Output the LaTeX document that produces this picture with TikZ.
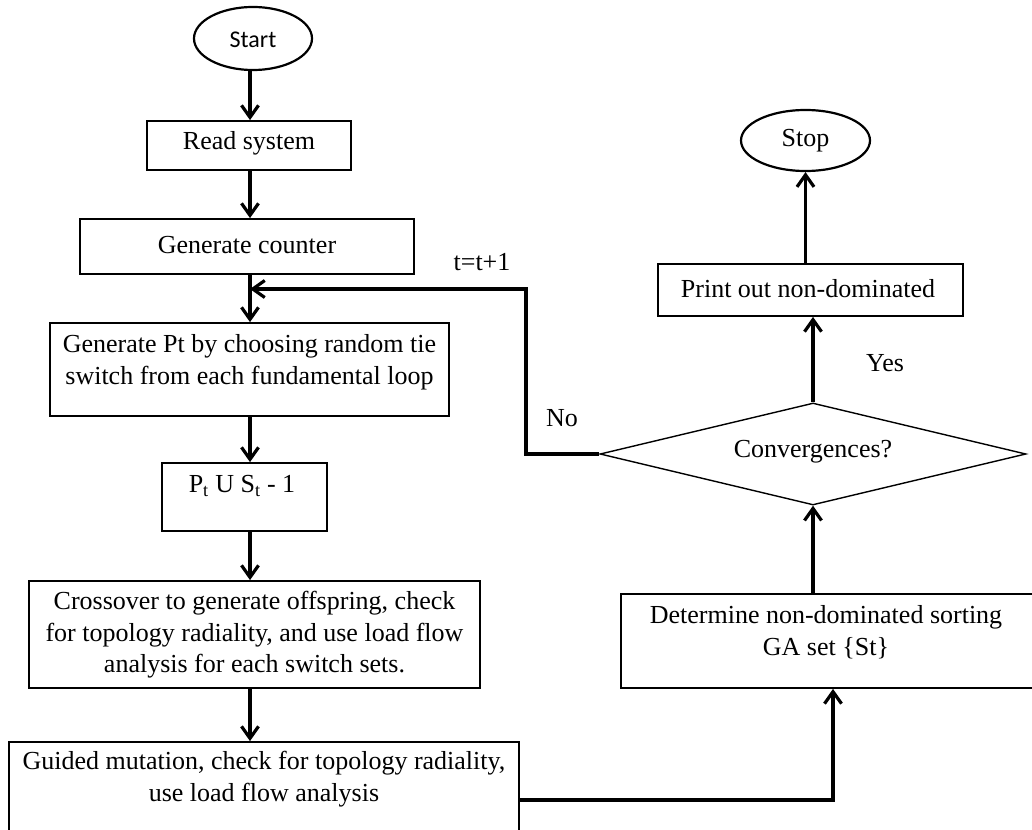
\documentclass[tikz,border=0pt]{standalone}
\usepackage{fontspec}
\setmainfont{Liberation Serif}
\newfontfamily\startfont{Carlito}
\usetikzlibrary{arrows.meta,shapes.geometric,calc}
\begin{document}
\begin{tikzpicture}[x=1pt,y=-1pt,
  box/.style={draw, line width=1.8pt, rectangle, inner sep=0pt},
  oval/.style={draw, line width=2.2pt, ellipse, inner sep=0pt},
  dec/.style={draw, line width=1.4pt, diamond, inner sep=0pt},
  txt/.style={align=center, inner sep=0pt, font=\fontsize{26pt}{31.5pt}\selectfont},
  lbl/.style={inner sep=0pt, font=\fontsize{26pt}{31.5pt}\selectfont},
  arr/.style={line width=3.2pt, -{Straight Barb[length=12pt,width=17pt]}},
  ln/.style={line width=3.2pt}]
\useasboundingbox (0,0) rectangle (1032,829);
\fill[white] (0,0) rectangle (1032,829);
% columns
\coordinate (col) at (250,0);
% nodes
\node[oval, minimum width=118pt, minimum height=63pt] (start) at (253,38.5) {};
\node[inner sep=0pt, font=\startfont\fontsize{24pt}{28pt}\selectfont] (starttxt) at (253,40) {Start};
\node[box, minimum width=204pt, minimum height=49pt] (read) at (249,145.5) {};
\node[txt] (readtxt) at (249,143) {Read system};
\node[box, minimum width=334pt, minimum height=55pt] (gen) at (247,246.5) {};
\node[txt] (gentxt) at (247,245) {Generate counter};
\node[box, minimum width=399pt, minimum height=93pt] (genpt) at (249.5,369.5) {};
\node[txt] (genpttxt) at (249.5,362) {Generate Pt by choosing random tie\\switch from each fundamental loop};
\node[box, minimum width=165pt, minimum height=68pt] (put) at (244.5,497) {};
\node[txt] (puttxt) at (242,486) {P\textsubscript{t} U S\textsubscript{t} - 1};
\node[box, minimum width=451pt, minimum height=107pt] (cross) at (254.5,634.5) {};
\node[txt] (crosstxt) at (254.5,635) {Crossover to generate offspring, check\\for topology radiality, and use load flow\\analysis for each switch sets.};
\node[box, minimum width=510pt, minimum height=100pt] (guided) at (264,792) {};
\node[txt] (guidedtxt) at (264,779) {Guided mutation, check for topology radiality,\\use load flow analysis};
\node[box, minimum width=420pt, minimum height=94pt] (det) at (831,641) {};
\node[txt] (dettxt) at (826,632) {Determine non-dominated sorting\\GA set \{St\}};
\node[dec, minimum width=426pt, minimum height=102pt] (dia) at (813,454) {};
\node[txt] (diatxt) at (813,452) {Convergences?};
\node[box, minimum width=305pt, minimum height=52pt] (print) at (810.5,290) {};
\node[txt] (printtxt) at (808,289) {Print out non-dominated};
\node[oval, minimum width=129pt, minimum height=61pt] (stop) at (805.5,140.5) {};
\node[txt] (stoptxt) at (805.5,141) {Stop};
% labels
\node[lbl] (yes) at (885,363) {Yes};
\node[lbl] (no) at (562,418) {No};
\node[lbl] (tt) at (482,262) {t=t+1};
% helper coordinates
\coordinate (fbend) at (250,289);
\coordinate (loopx) at (526,289);
\coordinate (gout) at (519,800);
\coordinate (dx) at (833,0);
% connectors
\draw[arr] (start.south -| col) -- (read.north -| col);
\draw[arr] (read.south -| col) -- (gen.north -| col);
\draw[arr] (gen.south -| col) -- (genpt.north -| col);
\draw[arr] (genpt.south -| col) -- (put.north -| col);
\draw[arr] (put.south -| col) -- (cross.north -| col);
\draw[arr] (cross.south -| col) -- (guided.north -| col);
\draw[arr] (gout) -| (det.south -| dx);
\draw[arr] (det.north -| dia.south) -- (dia.south);
\draw[arr] (dia.north) -- (print.south -| dia.north);
\draw[arr] (print.north -| stop.south) -- (stop.south);
\draw[arr] (dia.west) -- (dia.west -| loopx) |- (fbend);
\end{tikzpicture}
\end{document}
